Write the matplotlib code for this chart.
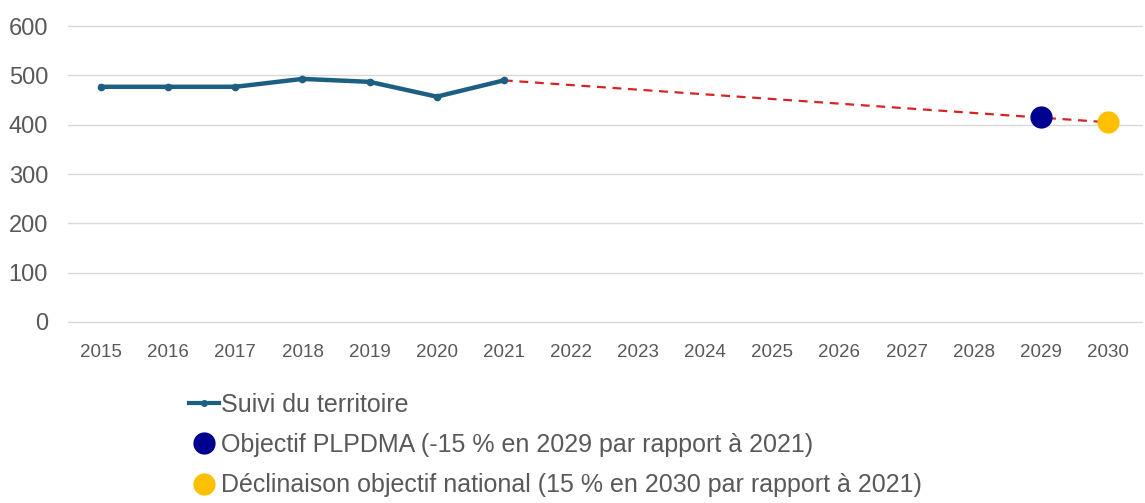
import matplotlib.pyplot as plt
from matplotlib.lines import Line2D

years = list(range(2015, 2031))
suivi_years = [2015, 2016, 2017, 2018, 2019, 2020, 2021]
suivi_values = [477, 477, 477, 493, 487, 457, 490]
trend_years = [2021, 2030]
trend_values = [490, 405]
plpdma_year = [2029]
plpdma_value = [416]
national_year = [2030]
national_value = [405]

labels = ["Suivi du territoire",
          "Objectif PLPDMA (-15 % en 2029 par rapport à 2021)",
          "Déclinaison objectif national (15 % en 2030 par rapport à 2021)"]

grey = "#595959"
plt.rcParams['font.family'] = ['Liberation Sans', 'DejaVu Sans']

fig = plt.figure(figsize=(11.45, 5.03), dpi=100)
ax = fig.add_axes([0.059, 0.360, 0.938, 0.588])

idx = {y: i for i, y in enumerate(years)}
ax.plot([idx[y] for y in trend_years], trend_values, color="#d62424", lw=1.6,
        ls=(0, (4, 3)), zorder=2)
ax.plot([idx[y] for y in suivi_years], suivi_values, color="#1c5f82", lw=3.2,
        marker="o", ms=4.5, zorder=3)
ax.plot([idx[y] for y in plpdma_year], plpdma_value, "o", color="#000090",
        ms=15, zorder=4)
ax.plot([idx[y] for y in national_year], national_value, "o", color="#ffc000",
        ms=15, zorder=4)

ax.set_xlim(-0.5, len(years) - 0.5)
ax.set_ylim(0, 600)
ax.set_yticks(range(0, 601, 100))
ax.set_xticks(range(len(years)))
ax.set_xticklabels([str(y) for y in years])
ax.grid(axis="y", color="#d9d9d9", lw=1)
for gl in ax.get_ygridlines():
    gl.set_clip_on(False)
ax.set_axisbelow(True)
for s in ax.spines.values():
    s.set_visible(False)
ax.tick_params(axis="both", length=0, colors=grey)
ax.tick_params(axis="y", labelsize=17, pad=14)
ax.tick_params(axis="x", labelsize=13.5, pad=16)

handles = [
    Line2D([], [], color="#1c5f82", lw=3, marker="o", ms=4),
    Line2D([], [], ls="", marker="o", color="#000090", ms=15),
    Line2D([], [], ls="", marker="o", color="#ffc000", ms=15),
]
fig.legend(handles, labels, loc="upper left", bbox_to_anchor=(0.154, 0.244),
           frameon=False, fontsize=18, labelcolor=grey, handlelength=1.2,
           handletextpad=0.1, labelspacing=0.65, borderpad=0)

fig.savefig("out.png", dpi=100)
